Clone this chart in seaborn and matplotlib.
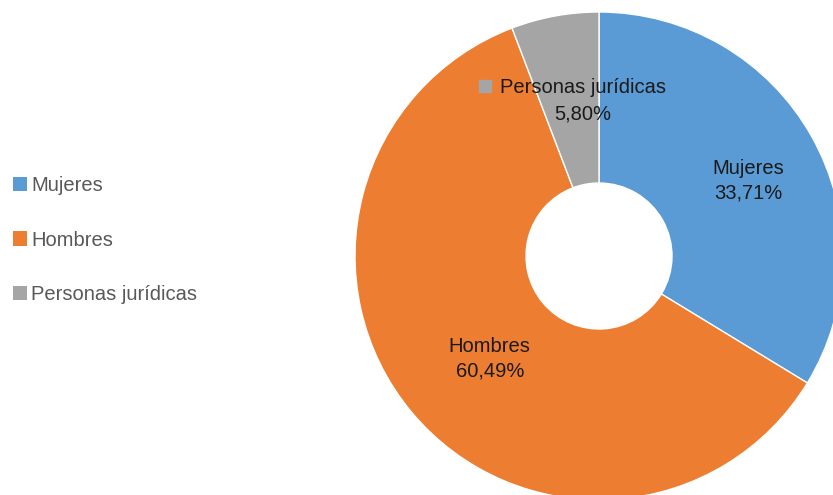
import numpy as np
import seaborn as sns
import matplotlib.pyplot as plt
from matplotlib.patches import Patch

# data
categories = ["Mujeres", "Hombres", "Personas jurídicas"]
shares = [33.71, 60.49, 5.80]
pct_labels = ["33,71%", "60,49%", "5,80%"]
colors = ["#5B9BD5", "#ED7D31", "#A5A5A5"]

sns.set_theme(style="white")
plt.rcParams['font.family'] = ['Liberation Sans', 'DejaVu Sans']
FS = 14.5

W, H = 833, 495
fig = plt.figure(figsize=(W / 100, H / 100), dpi=100)
ax = fig.add_axes([0, 0, 1, 1])

cx, cy, R, r_hole = 599, 239, 244, 73
wedges, _ = ax.pie(
    shares,
    colors=colors,
    startangle=90,
    counterclock=False,
    center=(cx, cy),
    radius=R,
    wedgeprops=dict(width=R - r_hole, edgecolor="white", linewidth=1),
)
ax.set_xlim(0, W)
ax.set_ylim(0, H)
ax.set_aspect("equal")
ax.axis("off")

# data labels inside the ring (radius fraction, angle shift in degrees)
label_pos = [(0.685, -2.5), (0.615, 3.5), (0.645, -4.5)]
for w, cat, pct, (lr, dang) in zip(wedges, categories, pct_labels, label_pos):
    ang = np.deg2rad((w.theta1 + w.theta2) / 2 + dang)
    x = cx + lr * R * np.cos(ang)
    y = cy + lr * R * np.sin(ang)
    if cat == "Personas jurídicas":
        ax.text(x, y + 12, cat, ha="center", va="center", fontsize=FS, color="#1a1a1a")
        ax.plot(x - 98, y + 13, marker="s", markersize=9, color=w.get_facecolor(), clip_on=False)
        ax.text(x, y - 15, pct, ha="center", va="center", fontsize=FS, color="#1a1a1a")
    else:
        ax.text(x, y, cat + "\n" + pct, ha="center", va="center", fontsize=FS,
                color="#1a1a1a", linespacing=1.4)

handles = [Patch(facecolor=c, edgecolor="none") for c in colors]
fig.legend(handles, categories, loc="center left", bbox_to_anchor=(13 / W, 0.515),
           frameon=False, fontsize=FS, handlelength=0.7, handleheight=0.7,
           handletextpad=0.2, labelspacing=1.78, borderpad=0, borderaxespad=0,
           labelcolor="#595959")

fig.savefig("out.png", dpi=100)
